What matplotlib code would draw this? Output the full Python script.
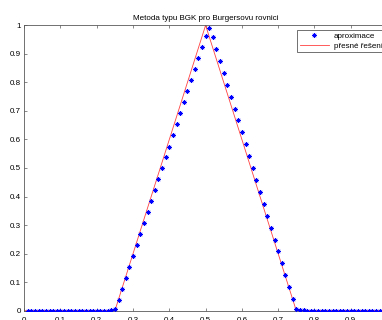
import numpy as np
import matplotlib
matplotlib.use("Agg")
import matplotlib.pyplot as plt

plt.rcParams['font.family'] = ['Liberation Sans', 'DejaVu Sans']

title = "Metoda typu BGK pro Burgersovu rovnici"
label_approx = "aproximace"
label_exact = "přesné řešení"

# numerical solution on the grid x = 0.01 ... 1.00
x_grid = np.linspace(0.01, 1.00, 100)
u_approx = (
    [0.0] * 23 +
    [0.001, 0.005, 0.037, 0.076, 0.113, 0.152, 0.190, 0.229, 0.268, 0.306,
     0.345, 0.383, 0.422, 0.460, 0.499, 0.537, 0.575, 0.614, 0.653, 0.692,
     0.730, 0.769, 0.807, 0.846, 0.884, 0.923, 0.961, 0.990, 0.959, 0.916,
     0.875, 0.833, 0.791, 0.749, 0.708, 0.667, 0.625, 0.583, 0.541, 0.500,
     0.458, 0.416, 0.374, 0.333, 0.291, 0.249, 0.208, 0.166, 0.124, 0.083,
     0.041, 0.007, 0.002, 0.001] +
    [0.0] * 23
)

# exact (triangular) solution
x_exact = [0.0, 0.25, 0.5, 0.75, 1.0]
u_exact = [0.0, 0.0, 1.0, 0.0, 0.0]

x_ticks = [0, 0.1, 0.2, 0.3, 0.4, 0.5, 0.6, 0.7, 0.8, 0.9, 1]
x_ticklabels = ["0", "0.1", "0.2", "0.3", "0.4", "0.5", "0.6", "0.7", "0.8", "0.9", "1"]
y_ticks = [0, 0.1, 0.2, 0.3, 0.4, 0.5, 0.6, 0.7, 0.8, 0.9, 1]
y_ticklabels = ["0", "0.1", "0.2", "0.3", "0.4", "0.5", "0.6", "0.7", "0.8", "0.9", "1"]

fs = 5.8
axcol = "0.35"

fig = plt.figure(figsize=(3.82, 3.20), dpi=100)
ax = fig.add_axes([24.2 / 382, 9.3 / 320, (387 - 24.2) / 382, 285.4 / 320])

ax.plot(x_exact, u_exact, color="#ff4040", lw=0.6, label=label_exact, zorder=2)
ax.plot(x_grid, u_approx, linestyle="none", marker=(8, 2, 0), markersize=3.4,
        markeredgewidth=0.45, color="blue", label=label_approx, zorder=3)

ax.set_xlim(0, 1)
ax.set_ylim(0, 1)
ax.set_xticks(x_ticks)
ax.set_xticklabels(x_ticklabels)
ax.set_yticks(y_ticks)
ax.set_yticklabels(y_ticklabels)
ax.tick_params(direction="in", length=2.5, width=0.5, color=axcol,
               labelsize=fs, pad=2.5, top=True, right=True)
ax.tick_params(axis="x", pad=4.5)
for s in ax.spines.values():
    s.set_color(axcol)
    s.set_linewidth(0.6)

ax.set_title(title, fontsize=fs, pad=4)

# legend order: markers first, then the line
handles, labels = ax.get_legend_handles_labels()
order = [1, 0]
leg = fig.legend([handles[i] for i in order], [labels[i] for i in order],
                 loc="upper left", bbox_to_anchor=(297.3 / 382, 1 - 30 / 320),
                 fontsize=fs, fancybox=False, framealpha=1, edgecolor=axcol,
                 borderaxespad=0, handlelength=3.6, handletextpad=0.6,
                 borderpad=0.3, labelspacing=0.25)
leg.get_frame().set_linewidth(0.6)

fig.savefig("out.png", dpi=100)
